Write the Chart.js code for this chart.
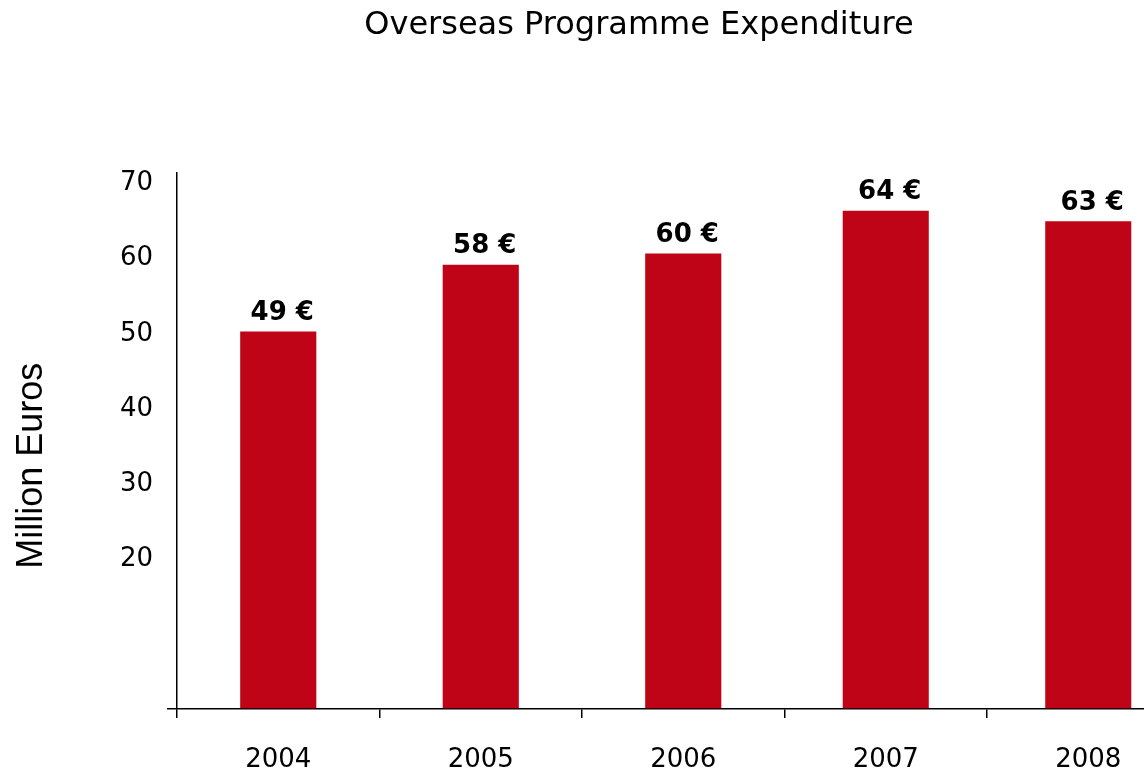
<!DOCTYPE html>
<html>
<head>
<meta charset="utf-8">
<script src="https://cdn.jsdelivr.net/npm/chart.js@4"></script>
<style>
  html, body { margin: 0; padding: 0; overflow: hidden; background: #fff; }
  canvas { display: block; }
</style>
</head>
<body>
<canvas id="expenditureChart" width="1278" height="776"></canvas>
<script>
const years = ['2004', '2005', '2006', '2007', '2008'];
const expenditure = [50.3, 59.2, 60.7, 66.4, 65.0];
const valueLabels = ['49 €', '58 €', '60 €', '64 €', '63 €'];
const yTicks = [0, 20, 30, 40, 50, 60, 70];

const barRed = '#BF0418';
const font = 'DejaVu Sans';

// last two bars are drawn a bit wider in the original
const wideFrom = 3;
const narrowData = expenditure.map((v, i) => i < wideFrom ? v : null);
const wideData = expenditure.map((v, i) => i >= wideFrom ? v : null);

// value labels above bars
const barLabels = {
    id: 'barLabels',
    afterDatasetsDraw(chart) {
        const ctx = chart.ctx;
        ctx.save();
        ctx.font = 'bold 26px "' + font + '"';
        ctx.fillStyle = '#000';
        ctx.textAlign = 'center';
        ctx.textBaseline = 'middle';
        chart.data.datasets.forEach((ds, d) => {
            chart.getDatasetMeta(d).data.forEach((bar, i) => {
                if (ds.data[i] === null) return;
                ctx.fillText(valueLabels[i], bar.x + 4, bar.y - 18);
            });
        });
        ctx.restore();
    }
};

new Chart(document.getElementById('expenditureChart'), {
    type: 'bar',
    data: {
        labels: years,
        datasets: [{
            data: narrowData,
            backgroundColor: barRed,
            barPercentage: 0.376,
            categoryPercentage: 1,
            grouped: false
        }, {
            data: wideData,
            backgroundColor: barRed,
            barPercentage: 0.425,
            categoryPercentage: 1,
            grouped: false
        }]
    },
    options: {
        responsive: false,
        animation: false,
        devicePixelRatio: 1,
        layout: { padding: 0 },
        plugins: {
            legend: { display: false },
            tooltip: { enabled: false },
            title: {
                display: true,
                text: 'Overseas Programme Expenditure',
                color: '#000',
                font: { family: font, size: 32, weight: 'normal' },
                padding: { top: 6, bottom: 128 }
            }
        },
        scales: {
            x: {
                offset: true,
                afterFit: s => { s.height = 67; },
                grid: { offset: true, drawOnChartArea: false, tickLength: 9, color: '#000', lineWidth: 1.5 },
                border: { color: '#000', width: 1.5 },
                ticks: { padding: 27, color: '#000', maxRotation: 0, font: { family: font, size: 26 } }
            },
            y: {
                min: 0,
                max: 71.5,
                afterBuildTicks: s => { s.ticks = yTicks.map(v => ({ value: v })); },
                afterFit: s => { s.width = 177; },
                border: { color: '#000', width: 1.5 },
                grid: {
                    drawOnChartArea: false,
                    tickLength: 10,
                    lineWidth: 1.5,
                    color: c => (c.tick && c.tick.value === 0) ? '#000' : 'rgba(0,0,0,0)'
                },
                ticks: {
                    padding: 14,
                    color: '#000',
                    font: { family: font, size: 26 },
                    callback: v => v === 0 ? '' : v
                },
                title: {
                    display: true,
                    text: 'Million Euros     ',
                    color: '#000',
                    font: { family: '"Liberation Sans Narrow", "Liberation Sans"', size: 36 },
                    padding: { top: 10, bottom: 0 }
                }
            },
            // empty right axis, keeps the plot running past the page edge
            yRight: {
                position: 'right',
                display: true,
                grid: { display: false },
                border: { display: false },
                ticks: { display: false },
                afterFit: s => { s.width = 88.5; }
            }
        }
    },
    plugins: [barLabels]
});
</script>
</body>
</html>
